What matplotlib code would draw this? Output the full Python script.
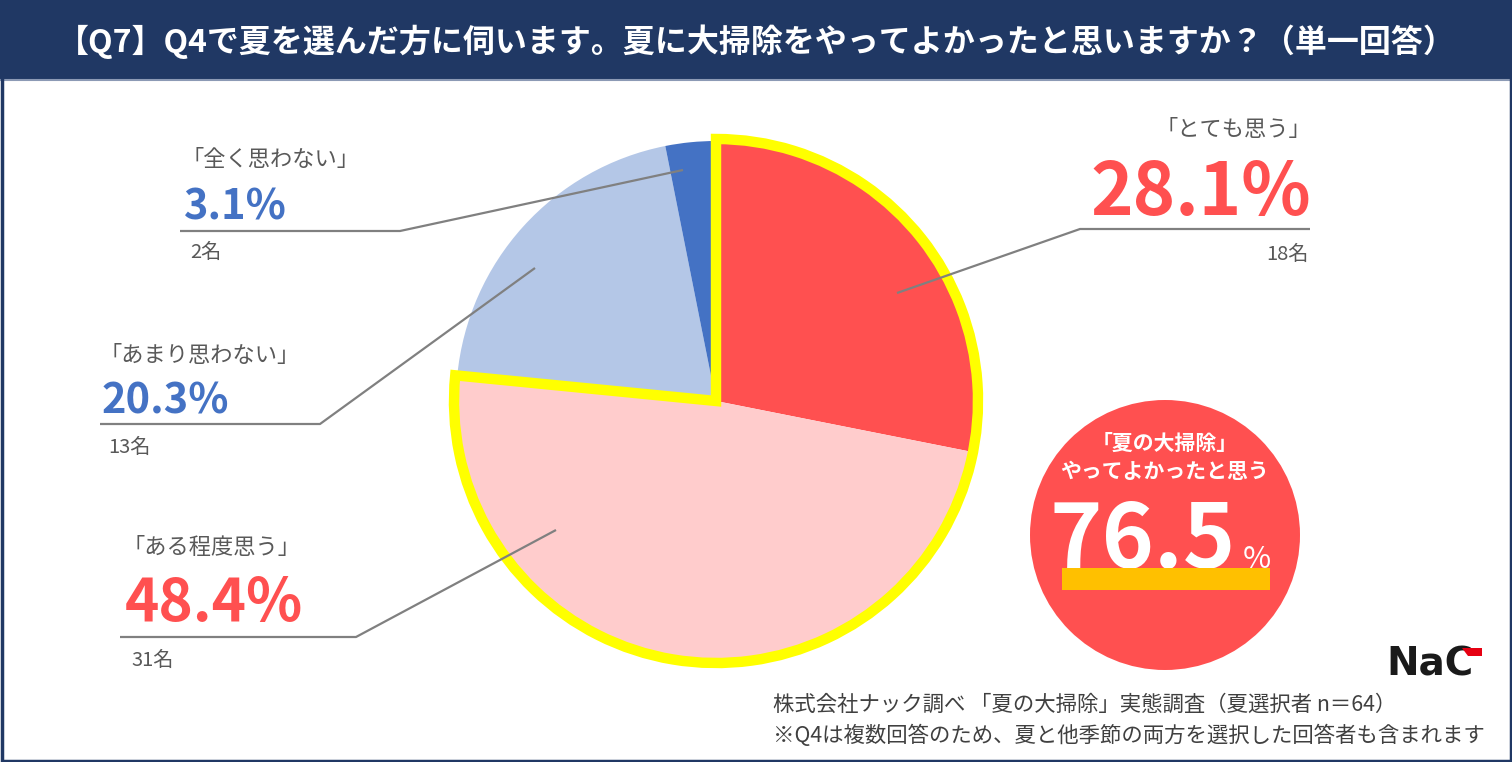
import matplotlib
matplotlib.use("Agg")
import matplotlib.pyplot as plt
from matplotlib.patches import Wedge, Circle, Rectangle, Polygon

plt.rcParams['font.family'] = ['Noto Sans CJK JP', 'DejaVu Sans']

# ---------------- data ----------------
title = "【Q7】Q4で夏を選んだ方に伺います。夏に大掃除をやってよかったと思いますか？（単一回答）"
categories = ["「とても思う」", "「ある程度思う」", "「あまり思わない」", "「全く思わない」"]
counts = [18, 31, 13, 2]
pct_labels = ["28.1%", "48.4%", "20.3%", "3.1%"]
count_labels = ["18名", "31名", "13名", "2名"]
positive_label = ["「夏の大掃除」", "やってよかったと思う"]
positive_value = "76.5"
footer_lines = ["株式会社ナック調べ 「夏の大掃除」実態調査（夏選択者 n＝64）",
                "※Q4は複数回答のため、夏と他季節の両方を選択した回答者も含まれます"]

# ---------------- style ----------------
slice_colors = ["#FF5050", "#FFCCCC", "#B4C7E7", "#4472C4"]
pct_colors = ["#FF5050", "#FF5050", "#4472C4", "#4472C4"]
navy = "#203864"
gray_text = "#595959"
line_gray = "#808080"

W, H = 1512, 762
def Y(y):
    return H - y

fig = plt.figure(figsize=(W / 100, H / 100), dpi=100)
ax = fig.add_axes([0, 0, 1, 1])

# pie
cx, cy, R = 716, 401, 260
wedges, _ = ax.pie(counts, colors=slice_colors, startangle=90, counterclock=False,
                   center=(cx, Y(cy)), radius=R, frame=True,
                   wedgeprops=dict(linewidth=0))
for w in wedges:
    w.set_zorder(2)

# yellow outline around the two positive slices
frac_pos = (counts[0] + counts[1]) / sum(counts)
ax.add_patch(Wedge((cx, Y(cy)), R + 2, 90 - 360 * frac_pos, 90, fill=False,
                   ec="#FFFF00", lw=7.5, joinstyle="miter", zorder=3))

# label layout: (align, text x, name y, pct baseline y, underline x0, x1, y, count y, anchor x, y, pct size)
layout = [
    ("right", 1311, 130, 215, 1080, 1310, 229, 254, 897, 293, 52),
    ("left", 123, 548, 621, 120, 356, 637, 660, 556, 530, 42),
    ("left", 100, 355, 414, 100, 320, 424, 447, 535, 268, 30),
    ("left", 182, 159, 220, 180, 400, 231, 252, 683, 170, 30),
]

for i, (al, tx, ny, py, ux0, ux1, uy, cy2, axx, ayy, psz) in enumerate(layout):
    ha = al
    ax.text(tx, Y(ny), categories[i], ha=ha, va="center", fontsize=16,
            color=gray_text, zorder=5)
    ax.text(tx + (2 if al == "left" else 0), Y(py), pct_labels[i], ha=ha, va="baseline",
            fontsize=psz, fontweight="bold", color=pct_colors[i], zorder=5)
    ax.text(tx + (8 if al == "left" else -2), Y(cy2), count_labels[i], ha=ha, va="center",
            fontsize=14.5, color=gray_text, zorder=5)
    if al == "right":
        xs = [ux1, ux0, axx]
    else:
        xs = [ux0, ux1, axx]
    ax.plot(xs, [Y(uy), Y(uy), Y(ayy)], color=line_gray, lw=1.6, zorder=4,
            solid_capstyle="butt")

# big red circle summary
ax.add_patch(Circle((1165, Y(535)), 135, color="#FF5050", lw=0, zorder=2))
ax.text(1165, Y(443), positive_label[0], ha="center", va="center", fontsize=15,
        fontweight="bold", color="white", zorder=5)
ax.text(1165, Y(472), positive_label[1], ha="center", va="center", fontsize=15,
        fontweight="bold", color="white", zorder=5)
ax.text(1236, Y(568), positive_value, ha="right", va="baseline", fontsize=64,
        fontweight="bold", color="white", zorder=5)
ax.text(1243, Y(568), "%", ha="left", va="baseline", fontsize=22,
        color="white", zorder=5)
ax.add_patch(Rectangle((1062, Y(590)), 208, 22, color="#FFC000", lw=0, zorder=6))

# title bar
ax.add_patch(Rectangle((0, Y(80)), W, 80, color=navy, lw=0, zorder=1))
ax.plot([0, W], [Y(80), Y(80)], color="#8C9AB5", lw=1.5, zorder=1)
ax.text(W / 2, Y(42), title, ha="center", va="center", fontsize=23,
        fontweight="bold", color="white", zorder=5)

# frame
ax.add_patch(Rectangle((1.5, 1.5), W - 3, H - 3, fill=False, ec=navy, lw=2.5, zorder=7))

# footer
ax.text(773, Y(705), footer_lines[0], ha="left", va="center", fontsize=15.4,
        color="#404040", zorder=5)
ax.text(773, Y(736), footer_lines[1], ha="left", va="center", fontsize=15.4,
        color="#404040", zorder=5)

# logo
ax.text(1430, Y(664), "NaC", ha="center", va="center", fontsize=28,
        fontweight="heavy", family="DejaVu Sans", color="#1A1A1A", zorder=5)
ax.add_patch(Polygon([(1462, Y(648)), (1482, Y(648)), (1482, Y(656)), (1468, Y(656))],
                     closed=True, color="#E60012", lw=0, zorder=6))

ax.set_xlim(0, W)
ax.set_ylim(0, H)
ax.set_aspect("auto")
ax.set_axis_off()

fig.savefig("out.png", dpi=100, facecolor="white")
